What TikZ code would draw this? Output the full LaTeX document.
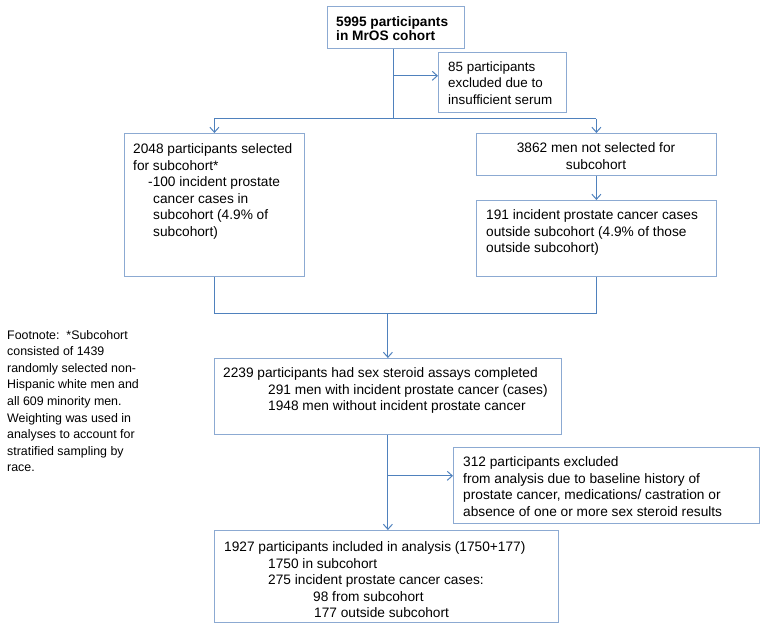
\documentclass[tikz,border=0pt]{standalone}
\usepackage{fontspec}
\setmainfont{Liberation Sans}
\usetikzlibrary{arrows.meta,calc}
\definecolor{boxc}{RGB}{140,170,210}
\definecolor{linec}{RGB}{79,129,189}
\begin{document}
\begin{tikzpicture}[x=1pt,y=-1pt,
  box/.style={draw=boxc,line width=0.8pt,anchor=north west,inner sep=0pt,fill=white},
  conn/.style={draw=linec,line width=1pt},
  arr/.style={conn,-{Straight Barb[length=5pt,width=9pt,line width=1pt]}},
  txt/.style={anchor=north west,inner sep=0pt,align=left,font=\fontsize{13.7}{16.5}\selectfont},
]
\path[use as bounding box] (0,0) rectangle (767,629);

% boxes
\node[box,minimum width=137pt,minimum height=42pt] (b1) at (327,6) {};
\node[box,minimum width=128pt,minimum height=60pt] (e1) at (438,52) {};
\node[box,minimum width=180pt,minimum height=143pt] (bl) at (124,133) {};
\node[box,minimum width=240pt,minimum height=42pt] (br1) at (476,133) {};
\node[box,minimum width=240pt,minimum height=76pt] (br2) at (476,200) {};
\node[box,minimum width=347pt,minimum height=76pt] (bm) at (214,358) {};
\node[box,minimum width=306pt,minimum height=76pt] (e2) at (453,447) {};
\node[box,minimum width=344pt,minimum height=92pt] (bb) at (214,530) {};

% texts
\node[txt,font=\fontsize{13.7}{14}\selectfont\bfseries] (t1) at (336,16.5) {5995 participants\\in MrOS cohort};
\node[txt,font=\fontsize{13.4}{16.5}\selectfont] (te1) at (448,61.5) {85 participants\\excluded due to\\insufficient serum};
\node[txt] (tl) at (133,143.5) {2048 participants selected\\for subcohort*\\\hspace*{15pt}-100 incident prostate\\\hspace*{20pt}cancer cases in\\\hspace*{20pt}subcohort (4.9\% of\\\hspace*{20pt}subcohort)};
\node[txt,anchor=north,align=center] (tr1) at (596,142.5) {3862 men not selected for\\subcohort};
\node[txt] (tr2) at (486,209.5) {191 incident prostate cancer cases\\outside subcohort (4.9\% of those\\outside subcohort)};
\node[txt] (tm) at (223,367.5) {2239 participants had sex steroid assays completed\\\hspace*{45pt}291 men with incident prostate cancer (cases)\\\hspace*{45pt}1948 men without incident prostate cancer};
\node[txt] (te2) at (463,456.5) {312 participants excluded\\from analysis due to baseline history of\\prostate cancer, medications/ castration or\\absence of one or more sex steroid results};
\node[txt] (tb) at (224,541.5) {1927 participants included in analysis (1750+177)\\\hspace*{44pt}1750 in subcohort\\\hspace*{44pt}275 incident prostate cancer cases:\\\hspace*{89pt}98 from subcohort\\\hspace*{90pt}177 outside subcohort};
\node[txt,font=\fontsize{12.4}{16.6}\selectfont] (fn) at (7,330) {Footnote:\ \ *Subcohort\\consisted of 1439\\randomly selected non-\\Hispanic white men and\\all 609 minority men.\\Weighting was used in\\analyses to account for\\stratified sampling by\\race.};

% connectors
\coordinate (j1) at ($(b1.south)+(-2,70)$);
\coordinate (j1l) at (bl.north |- j1);
\coordinate (j1r) at (br1.north |- j1);
\coordinate (k1) at ($(b1.south)+(-2,27)$);
\draw[conn] ($(b1.south)+(-2,0)$) -- (j1);
\draw[conn] (j1l) -- (j1r);
\draw[arr] (j1l) -- (bl.north);
\draw[arr] (j1r) -- (br1.north);
\draw[arr] (k1) -- (e1.west |- k1);
\draw[arr] (br1.south) -- (br2.north);
\coordinate (j2l) at ($(bl.south)+(0,37)$);
\coordinate (j2r) at (br2.south |- j2l);
\coordinate (j2m) at (bm.north |- j2l);
\draw[conn] (bl.south) -- (j2l) -- (j2r) -- (br2.south);
\draw[arr] (j2m) -- (bm.north);
\draw[arr] (bm.south) -- (bm.south |- bb.north);
\coordinate (k2) at ($(bm.south)+(0,41)$);
\draw[arr] (k2) -- (e2.west |- k2);
\end{tikzpicture}
\end{document}
